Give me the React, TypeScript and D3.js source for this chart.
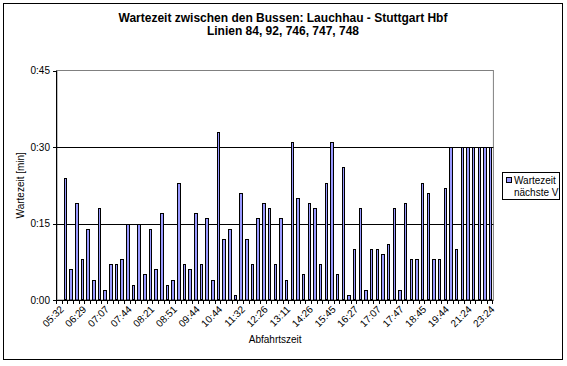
import React from "react";
import * as d3 from "d3";

// Wait time (minutes) before each departure; first departure has no predecessor
const waitMinutes: (number | null)[] = [
  null, 24, 6, 19, 8, 14, 4, 18, 2, 7, 7, 8, 15, 3, 15, 5, 14, 6, 17, 3, 4, 23, 7, 6, 17, 7,
  16, 4, 33, 12, 14, 1, 21, 12, 7, 16, 19, 18, 7, 16, 4, 31, 20, 5, 19, 18, 7, 23, 31, 5, 26, 1,
  10, 18, 2, 10, 10, 9, 11, 18, 2, 19, 8, 8, 23, 21, 8, 8, 22, 30, 10, 30, 30, 30, 30, 30, 30,
];
// Category labels shown on every 4th departure
const tickLabels = [
  "05:32", "06:29", "07:07", "07:44", "08:21", "08:51", "09:44", "10:44", "11:32", "12:26",
  "13:11", "14:26", "15:45", "16:27", "17:07", "17:47", "18:45", "19:44", "21:24", "23:24",
];
const labelEvery = 4;
const yTicks = [0, 15, 30, 45];
const titleLines = ["Wartezeit zwischen den Bussen: Lauchhau - Stuttgart Hbf", "Linien 84, 92, 746, 747, 748"];
const seriesName = ["Wartezeit", "nächste V"];

const W = 567, H = 366;
const plot = { left: 57, right: 493.4, top: 70.5, bottom: 300 };
const FONT = "'Liberation Sans', Arial, sans-serif";

export default function App() {
  const idx = waitMinutes.map((_, i) => i);
  const x = d3.scaleBand<number>().domain(idx).range([plot.left, plot.right]).padding(0);
  const y = d3.scaleLinear().domain([0, 45]).range([plot.bottom, plot.top]);
  const step = x.step();
  const fmt = (m: number) => `${Math.floor(m / 60)}:${String(m % 60).padStart(2, "0")}`;
  const halfBar = 1.7;

  return (
    <svg width={W} height={H} style={{ position: "fixed", left: 0, top: 0, background: "#fff" }} fontFamily={FONT}>
      <rect x={0} y={0} width={W} height={H} fill="#fff" />
      <rect x={3.5} y={3.5} width={559} height={356} fill="none" stroke="#000" />
      {titleLines.map((t, i) => (
        <text key={i} x={283} y={22 + i * 13} textAnchor="middle" fontSize={12} fontWeight="bold">{t}</text>
      ))}
      {/* plot area border */}
      <rect x={plot.left} y={plot.top} width={plot.right - plot.left} height={plot.bottom - plot.top} fill="none" stroke="#808080" />
      {/* gridlines */}
      {yTicks.filter(t => t > 0 && t < 45).map(t => (
        <line key={t} x1={plot.left} x2={plot.right} y1={Math.round(y(t)) + 0.5} y2={Math.round(y(t)) + 0.5} stroke="#000" />
      ))}
      {/* bars */}
      {waitMinutes.map((v, i) => {
        if (v == null || v === 0) return null;
        const cx = x(i)! + step / 2;
        const l = Math.round(cx - halfBar);
        const r = Math.round(cx + halfBar);
        const yt = Math.round(y(v)) + 0.5;
        return <rect key={i} x={l + 0.5} y={yt} width={r - l - 1} height={plot.bottom - yt} fill="#9999FF" stroke="#000" strokeWidth={1} />;
      })}
      {/* axes */}
      <line x1={plot.left - 0.5} x2={plot.left - 0.5} y1={plot.top} y2={plot.bottom + 0.5} stroke="#000" />
      <line x1={plot.left - 4} x2={plot.right} y1={plot.bottom + 0.5} y2={plot.bottom + 0.5} stroke="#000" />
      {yTicks.map(t => (
        <g key={t}>
          <line x1={plot.left - 4} x2={plot.left} y1={Math.round(y(t)) + 0.5} y2={Math.round(y(t)) + 0.5} stroke="#000" />
          <text x={50} y={y(t) + 3.5} textAnchor="end" fontSize={10}>{fmt(t)}</text>
        </g>
      ))}
      {d3.range(idx.length + 1).map(k => {
        const xx = Math.round(plot.left + k * step) - 0.5;
        return <line key={k} x1={xx} x2={xx} y1={plot.bottom} y2={plot.bottom + 4} stroke="#000" />;
      })}
      {tickLabels.map((lab, j) => {
        const cx = x(j * labelEvery)! + step / 2;
        return (
          <text key={lab} transform={`translate(${cx + 4.5},${plot.bottom + 10}) rotate(-45)`} textAnchor="end" fontSize={10}>{lab}</text>
        );
      })}
      <text x={(plot.left + plot.right) / 2} y={343} textAnchor="middle" fontSize={10}>Abfahrtszeit</text>
      <text transform={`translate(24,${(plot.top + plot.bottom) / 2}) rotate(-90)`} textAnchor="middle" fontSize={10}>Wartezeit [min]</text>
      {/* legend */}
      <rect x={502.5} y={172.5} width={57} height={27} fill="#fff" stroke="#000" />
      <rect x={506.5} y={177.5} width={5} height={5} fill="#9999FF" stroke="#000" />
      <text x={514} y={184} fontSize={10}>{seriesName[0]}</text>
      <text x={514} y={196} fontSize={10}>{seriesName[1]}</text>
    </svg>
  );
}
